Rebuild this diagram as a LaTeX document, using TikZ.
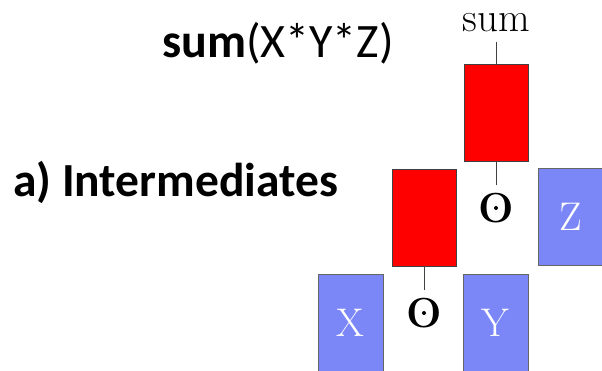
\documentclass[tikz,border=0pt]{standalone}
\usepackage{fontspec}
\newfontfamily\calibri{Carlito}
\usetikzlibrary{positioning}
\definecolor{blueop}{RGB}{123,135,247}

\begin{document}
\begin{tikzpicture}[x=1pt,y=-1pt,
    redbox/.style={draw=black!75,fill=red,minimum width=64pt,minimum height=97pt,inner sep=0pt},
    bluebox/.style={draw=black!60,fill=blueop,minimum width=65pt,minimum height=97pt,inner sep=0pt,
      text=white,font=\fontsize{40}{40}\selectfont},
    op/.style={inner sep=8pt,font=\bfseries\fontsize{42}{42}\selectfont},
    big/.style={anchor=base west,inner sep=0pt,font=\calibri\fontsize{48}{48}\selectfont},
    wire/.style={draw=black!75,line width=1pt}]
    \useasboundingbox (0,0) rectangle (602,371);
    \clip (0,0) rectangle (602,371);

    \node[big] (expr) at (162,58) {\textbf{sum}(X*Y*Z)};
    \node[big,font=\calibri\bfseries\fontsize{47.5}{47.5}\selectfont] (title) at (13,197) {a) Intermediates};

    \node[redbox] (mul2) at (496,113) {};
    \node[redbox] (mul1) at (424,217.5) {};
    \node[op] (op2) at (496,208) {O};
    \node[op] (op1) at (424,313) {O};
    \node[anchor=base,inner sep=9pt,font=\fontsize{41}{41}\selectfont] (out) at (496,32) {sum};

    \foreach \n/\x/\y in {X/350.5/322.5,Y/495.5/322.5,Z/571/216.5}
      \node[bluebox] (\n) at (\x,\y) {\n};

    % dot inside the product sign
    \foreach \o in {op1,op2}
      \fill (\o) circle (2pt);

    \draw[wire] (out) -- (mul2);
    \draw[wire] (mul2) -- (op2);
    \draw[wire] (mul1) -- (op1);

  \end{tikzpicture}
\end{document}
